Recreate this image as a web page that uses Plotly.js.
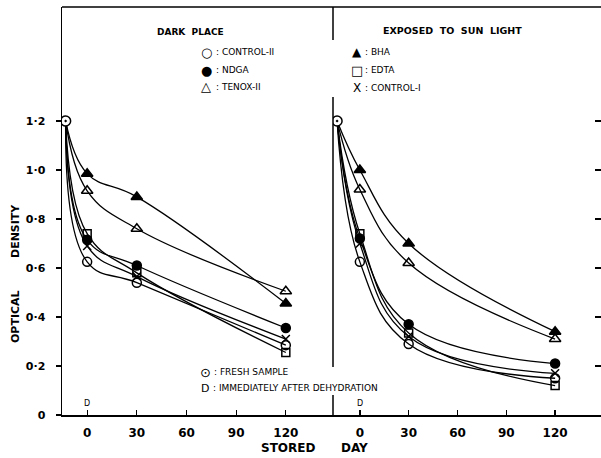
<!DOCTYPE html>
<html>
<head>
<meta charset="utf-8">
<script src="https://cdn.plot.ly/plotly-3.0.1.min.js"></script>
<style>html,body{margin:0;padding:0;background:#fff;}#chart{width:601px;height:458px;}</style>
</head>
<body>
<div id="chart"></div>
<script>
// ---- data ----
const storedDays = [0, 30, 120];
const freshDayDark = -13;
const freshDaySun = -14;
const freshValue = 1.2;

// Dark place
const darkControlII = [0.625, 0.54, 0.285];
const darkNDGA      = [0.715, 0.61, 0.355];
const darkTenoxII   = [0.915, 0.76, 0.505];
const darkBHA       = [0.985, 0.89, 0.455];
const darkEDTA      = [0.74, 0.58, 0.255];
const darkControlI  = [0.69, 0.565, 0.31];

// Exposed to sun light
const sunControlII = [0.625, 0.29, 0.15];
const sunNDGA      = [0.72, 0.37, 0.21];
const sunTenoxII   = [0.92, 0.62, 0.31];
const sunBHA       = [1.0, 0.70, 0.34];
const sunEDTA      = [0.74, 0.335, 0.12];
const sunControlI  = [0.70, 0.32, 0.17];

const xTickVals = [0, 30, 60, 90, 120];
const xTickText = ['0', '30', '60', '90', '120'];
const yTickVals = [0, 0.2, 0.4, 0.6, 0.8, 1.0, 1.2];
const yTickText = ['0', '0·2', '0·4', '0·6', '0·8', '1·0', '1·2'];

// ---- styling ----
const FONT = 'DejaVu Sans, sans-serif';
const seriesStyle = {
  controlII: {symbol: 'circle-open', size: 9},
  ndga: {symbol: 'circle', size: 9},
  tenoxII: {symbol: 'triangle-up-open', size: 10},
  bha: {symbol: 'triangle-up', size: 10},
  edta: {symbol: 'square-open', size: 8},
  controlI: {symbol: 'x-thin-open', size: 8}
};

function series(freshDay, vals, style, xa) {
  return {
    type: 'scatter', mode: 'lines+markers',
    x: [freshDay].concat(storedDays),
    y: [freshValue].concat(vals),
    xaxis: xa, yaxis: 'y',
    line: {color: '#000', width: 1.3, shape: 'spline', smoothing: 1.15},
    marker: {symbol: style.symbol, size: [0, style.size, style.size, style.size], color: '#000', opacity: 1,
             line: {color: '#000', width: 1.5}},
    showlegend: false, hoverinfo: 'skip'
  };
}

const traces = [
  series(freshDayDark, darkControlII, seriesStyle.controlII, 'x'),
  series(freshDayDark, darkNDGA, seriesStyle.ndga, 'x'),
  series(freshDayDark, darkTenoxII, seriesStyle.tenoxII, 'x'),
  series(freshDayDark, darkBHA, seriesStyle.bha, 'x'),
  series(freshDayDark, darkEDTA, seriesStyle.edta, 'x'),
  series(freshDayDark, darkControlI, seriesStyle.controlI, 'x'),
  series(freshDaySun, sunControlII, seriesStyle.controlII, 'x2'),
  series(freshDaySun, sunNDGA, seriesStyle.ndga, 'x2'),
  series(freshDaySun, sunTenoxII, seriesStyle.tenoxII, 'x2'),
  series(freshDaySun, sunBHA, seriesStyle.bha, 'x2'),
  series(freshDaySun, sunEDTA, seriesStyle.edta, 'x2'),
  series(freshDaySun, sunControlI, seriesStyle.controlI, 'x2'),
  {type: 'scatter', mode: 'markers', x: [freshDayDark], y: [freshValue], xaxis: 'x', yaxis: 'y',
   marker: {symbol: 'circle-dot', size: 10, color: '#fff', line: {color: '#000', width: 1.5}},
   showlegend: false, hoverinfo: 'skip'},
  {type: 'scatter', mode: 'markers', x: [freshDaySun], y: [freshValue], xaxis: 'x2', yaxis: 'y',
   marker: {symbol: 'circle-dot', size: 10, color: '#fff', line: {color: '#000', width: 1.5}},
   showlegend: false, hoverinfo: 'skip'}
];

// pixel -> paper helpers (plot area: x 62..601, y 7..415)
const L = 62, R = 0, T = 7, B = 43, W = 601, H = 458;
const pw = W - L - R, ph = H - T - B;
const px = v => (v - L) / pw;
const py = v => (H - B - v) / ph;

function ann(text, x, y, opts) {
  return Object.assign({xref: 'paper', yref: 'paper', x: px(x), y: py(y), text: text,
    showarrow: false, xanchor: 'left', yanchor: 'middle',
    font: {family: FONT, size: 9, color: '#000'}}, opts || {});
}

const annotations = [
  ann('<b>DARK  PLACE</b>', 190, 32, {xanchor: 'center', font: {family: FONT, size: 9, color: '#000'}}),
  ann('○', 206, 52, {xanchor: 'center', font: {family: FONT, size: 13, color: '#000'}}),
  ann(': CONTROL-II', 214, 52),
  ann('●', 206, 70, {xanchor: 'center', font: {family: FONT, size: 13, color: '#000'}}),
  ann(': NDGA', 214, 70),
  ann('△', 206, 87, {xanchor: 'center', font: {family: FONT, size: 13, color: '#000'}}),
  ann(': TENOX-II', 214, 87),
  ann('<b>EXPOSED  TO  SUN  LIGHT</b>', 452, 30, {xanchor: 'center', font: {family: FONT, size: 9.5, color: '#000'}}),
  ann('▲', 357, 52, {xanchor: 'center', font: {family: FONT, size: 12, color: '#000'}}),
  ann(': BHA', 363, 52),
  ann('□', 357, 70, {xanchor: 'center', font: {family: FONT, size: 13, color: '#000'}}),
  ann(': EDTA', 363, 70),
  ann('X', 357, 88, {xanchor: 'center', font: {family: FONT, size: 12, color: '#000'}}),
  ann(': CONTROL-I', 363, 88),
  ann('⊙', 205, 372, {xanchor: 'center', font: {family: FONT, size: 13, color: '#000'}}),
  ann(': FRESH SAMPLE', 212, 372),
  ann('D', 205, 388, {xanchor: 'center', font: {family: FONT, size: 11, color: '#000'}}),
  ann(': IMMEDIATELY AFTER DEHYDRATION', 211, 388),
  {xref: 'x', yref: 'paper', x: 0, y: py(403), text: 'D', showarrow: false, xanchor: 'center', yanchor: 'middle',
   font: {family: FONT, size: 8, color: '#000'}},
  {xref: 'x2', yref: 'paper', x: 0, y: py(403), text: 'D', showarrow: false, xanchor: 'center', yanchor: 'middle',
   font: {family: FONT, size: 8, color: '#000'}},
  ann('<b>OPTICAL</b>', 15, 317, {xanchor: 'center', textangle: -90, font: {family: FONT, size: 11, color: '#000'}}),
  ann('<b>DENSITY</b>', 15, 231, {xanchor: 'center', textangle: -90, font: {family: FONT, size: 11, color: '#000'}}),
  ann('<b>STORED</b>', 288, 448, {xanchor: 'center', font: {family: FONT, size: 12, color: '#000'}}),
  ann('<b>DAY</b>', 354, 448, {xanchor: 'center', font: {family: FONT, size: 12, color: '#000'}})
];

const lineStyle = {color: '#000', width: 1.5};
const shapes = [
  {type: 'line', xref: 'paper', yref: 'paper', x0: 0, x1: 1, y0: py(7), y1: py(7), line: lineStyle},
  {type: 'line', xref: 'paper', yref: 'paper', x0: px(333), x1: px(333), y0: py(7), y1: py(40), line: lineStyle},
  {type: 'line', xref: 'paper', yref: 'paper', x0: px(333), x1: px(333), y0: py(97), y1: py(367), line: lineStyle},
  {type: 'line', xref: 'paper', yref: 'paper', x0: px(333), x1: px(333), y0: py(395), y1: py(415), line: lineStyle}
];

const axisFont = {family: FONT, size: 12, color: '#000', weight: 'bold'};
const xCommon = {
  tickvals: xTickVals, ticktext: xTickText, ticks: 'inside', ticklen: 5, tickwidth: 1.3, tickcolor: '#000',
  showline: true, linecolor: '#000', linewidth: 1.5, showgrid: false, zeroline: false,
  tickfont: axisFont, ticklabelstandoff: 6, anchor: 'y'
};

const layout = {
  width: W, height: H,
  margin: {l: L, r: R, t: T, b: B},
  paper_bgcolor: '#fff', plot_bgcolor: '#fff',
  showlegend: false,
  xaxis: Object.assign({}, xCommon, {domain: [0, px(333)], range: [-15.2, 148.5]}),
  xaxis2: Object.assign({}, xCommon, {domain: [px(333), 1], range: [-16.5, 148.2]}),
  yaxis: {range: [0, 1.665], tickvals: yTickVals, ticktext: yTickText, ticks: 'outside', ticklen: 5,
          tickwidth: 1.3, tickcolor: '#000', showline: true, linecolor: '#000', linewidth: 1.5,
          showgrid: false, zeroline: false, tickfont: Object.assign({}, axisFont, {size: 11}), ticklabelstandoff: 8},
  yaxis2: {range: [0, 1.665], overlaying: 'y', side: 'right', anchor: 'x2', tickvals: yTickVals.slice(1),
           ticks: 'inside', ticklen: 6, tickwidth: 1.3, tickcolor: '#000', showticklabels: false,
           showline: false, showgrid: false, zeroline: false},
  annotations: annotations,
  shapes: shapes
};

// dummy invisible trace so yaxis2 is drawn
traces.push({type: 'scatter', mode: 'markers', x: [0], y: [0], xaxis: 'x2', yaxis: 'y2',
  marker: {size: 0, opacity: 0}, showlegend: false, hoverinfo: 'skip'});

Plotly.newPlot('chart', traces, layout, {staticPlot: true, displayModeBar: false});
</script>
</body>
</html>
